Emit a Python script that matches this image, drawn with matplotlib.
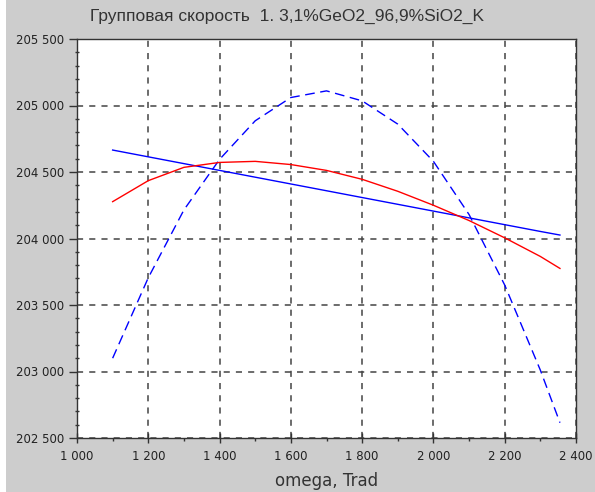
import matplotlib
matplotlib.use("Agg")
import matplotlib.pyplot as plt
from matplotlib.ticker import MultipleLocator, FuncFormatter
from matplotlib.patches import Rectangle

plt.rcParams['font.family'] = ['Liberation Sans', 'DejaVu Sans']

title = "Групповая скорость  1. 3,1%GeO2_96,9%SiO2_K"
xlabel = "omega, Trad"

omega = [1100, 1200, 1300, 1400, 1500, 1600, 1700, 1800, 1900, 2000, 2100, 2200, 2300, 2355]
solid_blue = [204665, 204614, 204563, 204512, 204461, 204410, 204359, 204308, 204257,
              204206, 204155, 204104, 204053, 204026]
red = [204277, 204435, 204535, 204572, 204580, 204556, 204512, 204445, 204355,
       204250, 204135, 204005, 203865, 203775]
dashed_blue = [203100, 203705, 204215, 204595, 204885, 205060, 205110, 205035, 204860,
               204580, 204180, 203650, 203010, 202615]

W, H = 595, 492
fig = plt.figure(figsize=(W / 100, H / 100), dpi=100)
fig.patch.set_facecolor('#cdcdcd')
fig.patches.append(Rectangle((0, 0), 6 / W, 1, transform=fig.transFigure,
                             facecolor='white', edgecolor='none', zorder=0))

ax = fig.add_axes([77 / W, 1 - 438 / H, (576 - 77) / W, (438 - 39) / H])
ax.set_facecolor('white')

ax.plot(omega, dashed_blue, color='#0000ff', lw=1.0, dashes=(7, 4), zorder=3)
ax.plot(omega, solid_blue, color='#0000ff', lw=1.0, zorder=3)
ax.plot(omega, red, color='#ff0000', lw=1.0, zorder=3)

ax.set_xlim(1000, 2400)
ax.set_ylim(202500, 205500)
ax.xaxis.set_major_locator(MultipleLocator(200))
ax.xaxis.set_minor_locator(MultipleLocator(100))
ax.yaxis.set_major_locator(MultipleLocator(500))
ax.yaxis.set_minor_locator(MultipleLocator(100))

fmt = FuncFormatter(lambda v, p: f"{int(round(v)):,}".replace(",", " "))
ax.xaxis.set_major_formatter(fmt)
ax.yaxis.set_major_formatter(fmt)

ax.grid(True, which='major', color='#444444', lw=1.1, linestyle=(0, (4, 4)))
ax.set_axisbelow(True)

for s in ax.spines.values():
    s.set_color('#333333')
    s.set_linewidth(1.0)

ax.tick_params(axis='x', which='major', direction='inout', length=7, width=1,
               color='#333333', labelsize=8.5, pad=5, labelcolor='#222222')
ax.tick_params(axis='x', which='minor', direction='out', length=2.5, width=1, color='#333333')
ax.tick_params(axis='y', which='major', direction='out', length=5.5, width=1,
               color='#333333', labelsize=8.5, pad=4, labelcolor='#222222')
ax.tick_params(axis='y', which='minor', direction='inout', length=3, width=1, color='#333333')
for lab in ax.get_xticklabels() + ax.get_yticklabels():
    lab.set_family(['DejaVu Sans'])

fig.text(287 / W, 1 - 16 / H, title, ha='center', va='center', fontsize=12.5, color='#333333')
fig.text(327 / W, 1 - 481 / H, xlabel, ha='center', va='center', fontsize=12,
         color='#333333', family=['DejaVu Sans'])

fig.savefig("out.png", dpi=100, facecolor=fig.get_facecolor())
